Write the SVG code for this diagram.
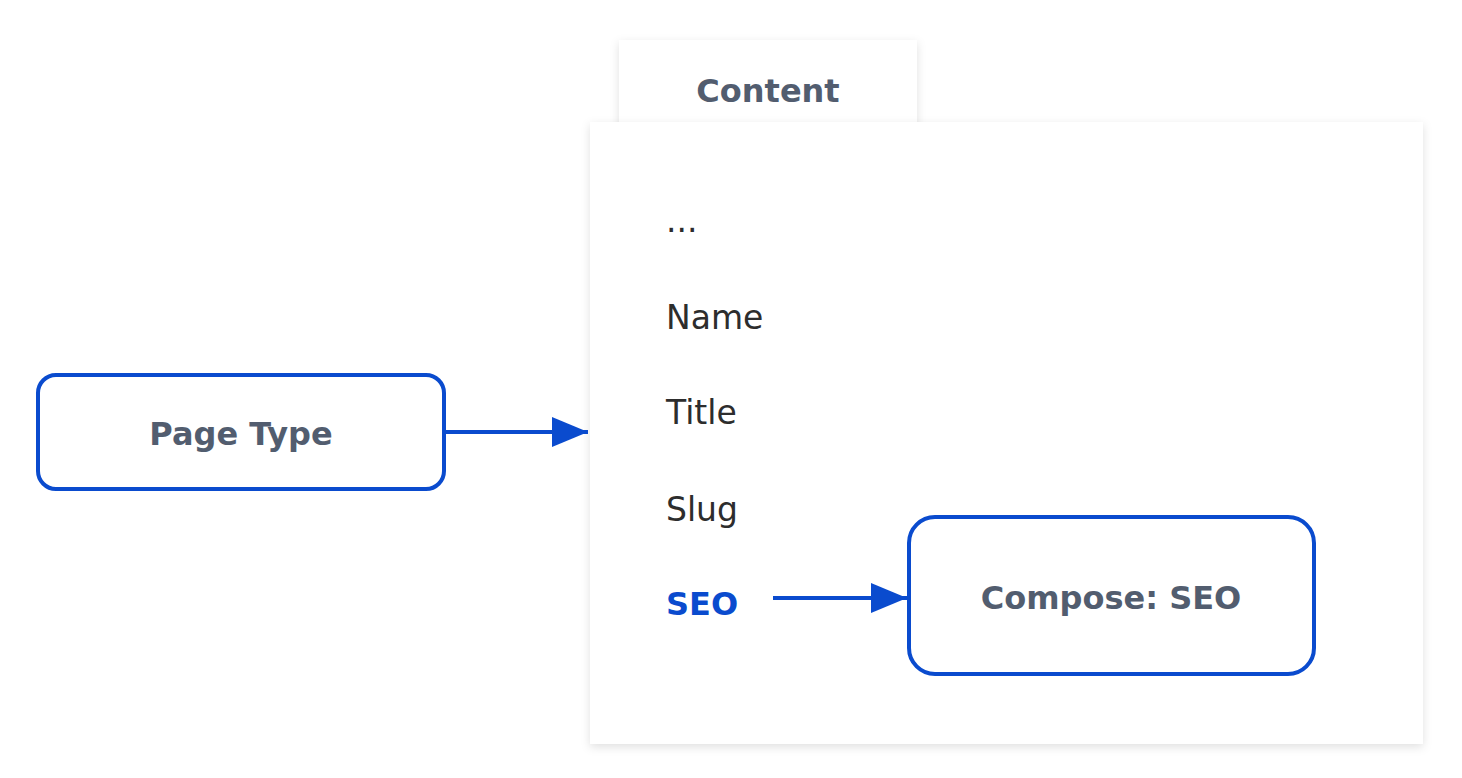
<svg xmlns="http://www.w3.org/2000/svg" width="1462" height="778" viewBox="0 0 1462 778">
<defs>
<filter id="sh" x="-10%" y="-10%" width="120%" height="120%">
<feDropShadow dx="0" dy="3" stdDeviation="5" flood-color="#000" flood-opacity="0.12"/>
</filter>
<marker id="ah" viewBox="0 0 10 10" refX="10" refY="5" markerWidth="9" markerHeight="7.5" markerUnits="strokeWidth" orient="auto" preserveAspectRatio="none">
<path d="M0,0 L10,5 L0,10 Z" fill="#0a4bce"/>
</marker>
<style>
.box{fill:#fff;stroke:#0a4bce;stroke-width:4}
.lbl{font-family:"DejaVu Sans","Liberation Sans",sans-serif;font-weight:bold;font-size:32px;fill:#525d6f;text-anchor:middle}
.item{font-family:"DejaVu Sans","Liberation Sans",sans-serif;font-size:33px;fill:#2d2d2d}
.conn{stroke:#0a4bce;stroke-width:4;fill:none;marker-end:url(#ah)}
</style>
</defs>
<rect width="1462" height="778" fill="#fff"/>
<g id="content-tab">
<rect x="619" y="40" width="298" height="100" fill="#fff" filter="url(#sh)"/>
<text class="lbl" x="768" y="102">Content</text>
</g>
<g id="content-panel">
<rect x="590" y="122" width="833" height="622" fill="#fff" filter="url(#sh)"/>
<text class="item" x="666" y="232">...</text>
<text class="item" x="666" y="329">Name</text>
<text class="item" x="666" y="424">Title</text>
<text class="item" x="666" y="521">Slug</text>
<text class="item" x="666" y="615" style="font-weight:bold;font-size:32px;fill:#0a4bce">SEO</text>
</g>
<g id="page-type">
<rect class="box" x="38" y="375" width="406" height="114" rx="18"/>
<text class="lbl" x="241" y="445">Page Type</text>
</g>
<g id="compose-seo">
<rect class="box" x="909" y="517" width="405" height="157" rx="26"/>
<text class="lbl" x="1111" y="609">Compose: SEO</text>
</g>
<g id="connectors">
<line class="conn" x1="444" y1="432" x2="588" y2="432"/>
<line class="conn" x1="773" y1="598" x2="907" y2="598"/>
</g>
</svg>
